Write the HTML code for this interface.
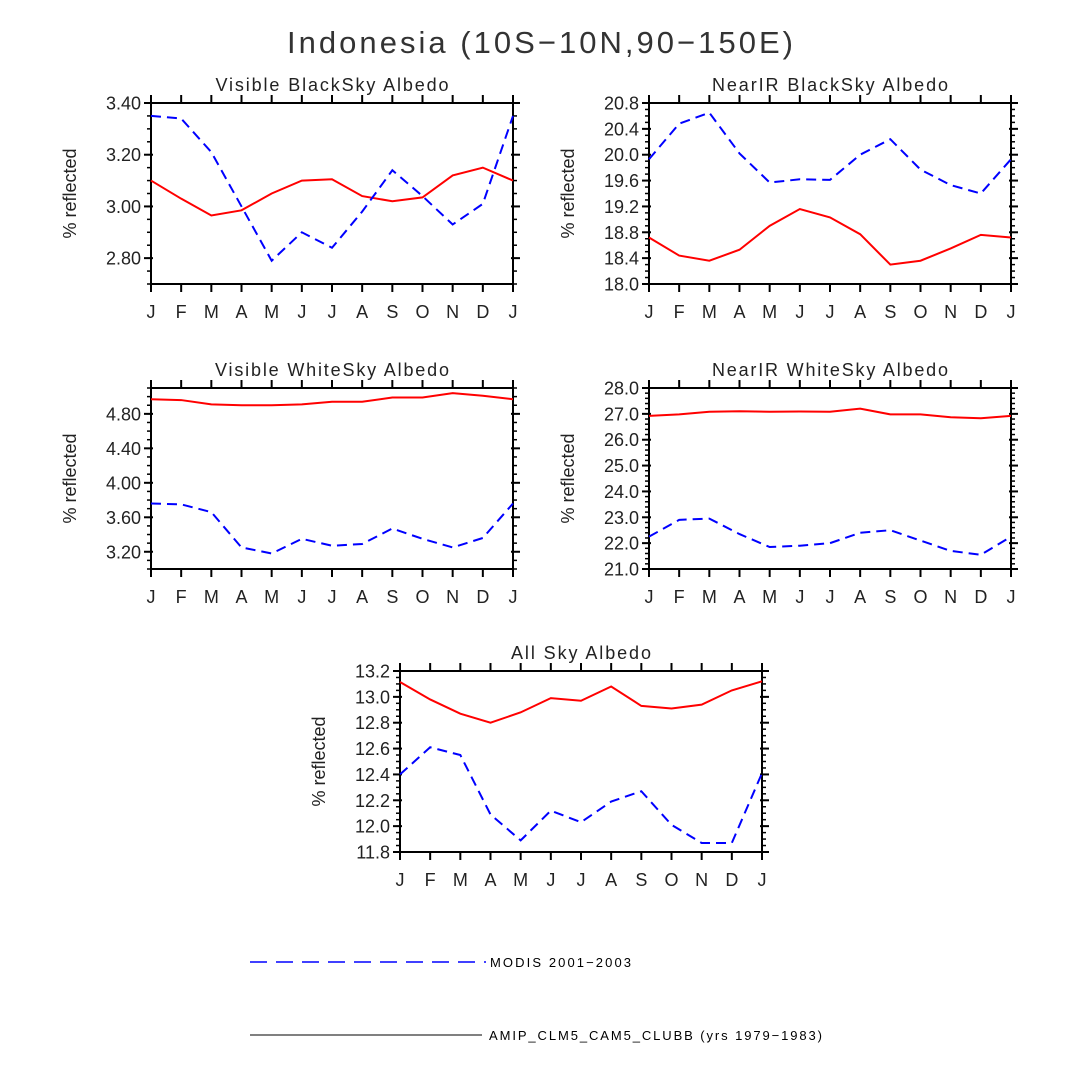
<!DOCTYPE html>
<html><head><meta charset="utf-8"><style>
html,body{margin:0;padding:0;background:#fff;}
svg{display:block;font-family:"Liberation Sans","DejaVu Sans",sans-serif;}
</style></head><body>
<svg id="chart" width="1080" height="1080" viewBox="0 0 1080 1080">
<text x="287" y="53" textLength="506" lengthAdjust="spacing" font-size="31" fill="#333">Indonesia (10S−10N,90−150E)</text>
<g>
<line x1="250" y1="962" x2="486" y2="962" stroke="#0000ff" stroke-width="1.5" stroke-dasharray="17,9"/>
<text x="490" y="967" textLength="141" lengthAdjust="spacing" font-size="13" fill="#000">MODIS 2001−2003</text>
<line x1="250" y1="1035" x2="482" y2="1035" stroke="#000" stroke-width="1"/>
<text x="489" y="1040" textLength="333" lengthAdjust="spacing" font-size="13" fill="#000">AMIP_CLM5_CAM5_CLUBB (yrs 1979−1983)</text>
</g>
</svg>
<script>
const months = ["J","F","M","A","M","J","J","A","S","O","N","D","J"];
const p1Model = [3.10,3.03,2.965,2.985,3.05,3.10,3.105,3.04,3.02,3.035,3.12,3.15,3.10];
const p1Modis = [3.35,3.34,3.21,3.00,2.79,2.90,2.84,2.98,3.14,3.04,2.93,3.01,3.35];
const p1Ticks = ["3.40","3.20","3.00","2.80"];
const p2Model = [18.72,18.44,18.36,18.53,18.90,19.16,19.03,18.77,18.30,18.36,18.55,18.76,18.72];
const p2Modis = [19.93,20.48,20.65,20.02,19.57,19.62,19.61,20.00,20.24,19.77,19.53,19.40,19.93];
const p2Ticks = ["20.8","20.4","20.0","19.6","19.2","18.8","18.4","18.0"];
const p3Model = [4.97,4.96,4.91,4.90,4.90,4.91,4.94,4.94,4.99,4.99,5.04,5.01,4.97];
const p3Modis = [3.76,3.75,3.66,3.25,3.18,3.35,3.27,3.29,3.47,3.35,3.25,3.36,3.76];
const p3Ticks = ["4.80","4.40","4.00","3.60","3.20"];
const p4Model = [26.92,26.98,27.08,27.10,27.08,27.09,27.08,27.20,26.98,26.98,26.87,26.83,26.92];
const p4Modis = [22.25,22.90,22.95,22.35,21.85,21.90,22.00,22.40,22.50,22.10,21.70,21.55,22.25];
const p4Ticks = ["28.0","27.0","26.0","25.0","24.0","23.0","22.0","21.0"];
const p5Model = [13.115,12.98,12.87,12.80,12.88,12.99,12.97,13.08,12.93,12.91,12.94,13.05,13.12];
const p5Modis = [12.40,12.61,12.55,12.09,11.89,12.12,12.03,12.19,12.27,12.01,11.87,11.87,12.41];
const p5Ticks = ["13.2","13.0","12.8","12.6","12.4","12.2","12.0","11.8"];

const NS="http://www.w3.org/2000/svg";
const svg=document.getElementById("chart");
function mk(tag,attrs,parent){const e=document.createElementNS(NS,tag);for(const k in attrs)e.setAttribute(k,attrs[k]);(parent||svg).appendChild(e);return e;}

const panels=[
 {id:"visible-blacksky",title:"Visible BlackSky Albedo",tl:233,x:151,y:103,min:2.70,max:3.40,minor:0.05,ticks:p1Ticks,model:p1Model,modis:p1Modis},
 {id:"nearir-blacksky",title:"NearIR BlackSky Albedo",tl:236,x:649,y:103,min:18.0,max:20.8,minor:0.1,ticks:p2Ticks,model:p2Model,modis:p2Modis},
 {id:"visible-whitesky",title:"Visible WhiteSky Albedo",tl:234,x:151,y:388,min:3.0,max:5.1,minor:0.1,ticks:p3Ticks,model:p3Model,modis:p3Modis},
 {id:"nearir-whitesky",title:"NearIR WhiteSky Albedo",tl:236,x:649,y:388,min:21.0,max:28.0,minor:0.2,ticks:p4Ticks,model:p4Model,modis:p4Modis},
 {id:"allsky",title:"All Sky Albedo",tl:140,x:400,y:671,min:11.8,max:13.2,minor:0.05,ticks:p5Ticks,model:p5Model,modis:p5Modis}
];
const W=362,H=181;
panels.forEach(p=>{
 const g=mk("g",{});
 
 
 const xs=i=>p.x+i*W/(months.length-1);
 const ys=v=>p.y+(p.max-v)/(p.max-p.min)*H;
 const t=mk("text",{x:p.x+W/2-p.tl/2,y:p.y-12,textLength:p.tl,lengthAdjust:"spacing","font-size":18,fill:"#222"},g);
 t.textContent=p.title;
 
 
 const yt=mk("text",{transform:`translate(${p.x-75},${p.y+H/2}) rotate(-90)`,"text-anchor":"middle","font-size":18,fill:"#222"},g);
 yt.textContent="% reflected";
 
 
 const nMin=Math.round((p.max-p.min)/p.minor);
 for(let k=0;k<=nMin;k++){const y=ys(p.min+k*p.minor);
  mk("line",{x1:p.x-4,x2:p.x,y1:y,y2:y,stroke:"#000","stroke-width":1.5},g);
  mk("line",{x1:p.x+W,x2:p.x+W+4,y1:y,y2:y,stroke:"#000","stroke-width":1.5},g);}
 p.ticks.forEach(s=>{const y=ys(parseFloat(s));
  mk("line",{x1:p.x-7,x2:p.x+2,y1:y,y2:y,stroke:"#000","stroke-width":2},g);
  mk("line",{x1:p.x+W-2,x2:p.x+W+7,y1:y,y2:y,stroke:"#000","stroke-width":2},g);
  const l=mk("text",{x:p.x-10,y:y+6.5,"text-anchor":"end","font-size":18,fill:"#222"},g);
  l.textContent=s;
  
  });
 months.forEach((m,i)=>{const x=xs(i);
  mk("line",{x1:x,x2:x,y1:p.y-8,y2:p.y,stroke:"#000","stroke-width":2},g);
  mk("line",{x1:x,x2:x,y1:p.y+H,y2:p.y+H+8,stroke:"#000","stroke-width":2},g);
  const l=mk("text",{x:x,y:p.y+H+34,"text-anchor":"middle","font-size":18,fill:"#222"},g);
  l.textContent=m;
  
  });
 const box=mk("rect",{x:p.x,y:p.y,width:W,height:H,fill:"none",stroke:"#000","stroke-width":2},g);
 
 
 const lm=mk("polyline",{points:p.model.map((v,i)=>xs(i)+","+ys(v)).join(" "),fill:"none",stroke:"#ff0000","stroke-width":2},g);
 
 
 const ld=mk("polyline",{points:p.modis.map((v,i)=>xs(i)+","+ys(v)).join(" "),fill:"none",stroke:"#0000ff","stroke-width":2,"stroke-dasharray":"10,6"},g);
 
 
});
</script>
</body></html>
